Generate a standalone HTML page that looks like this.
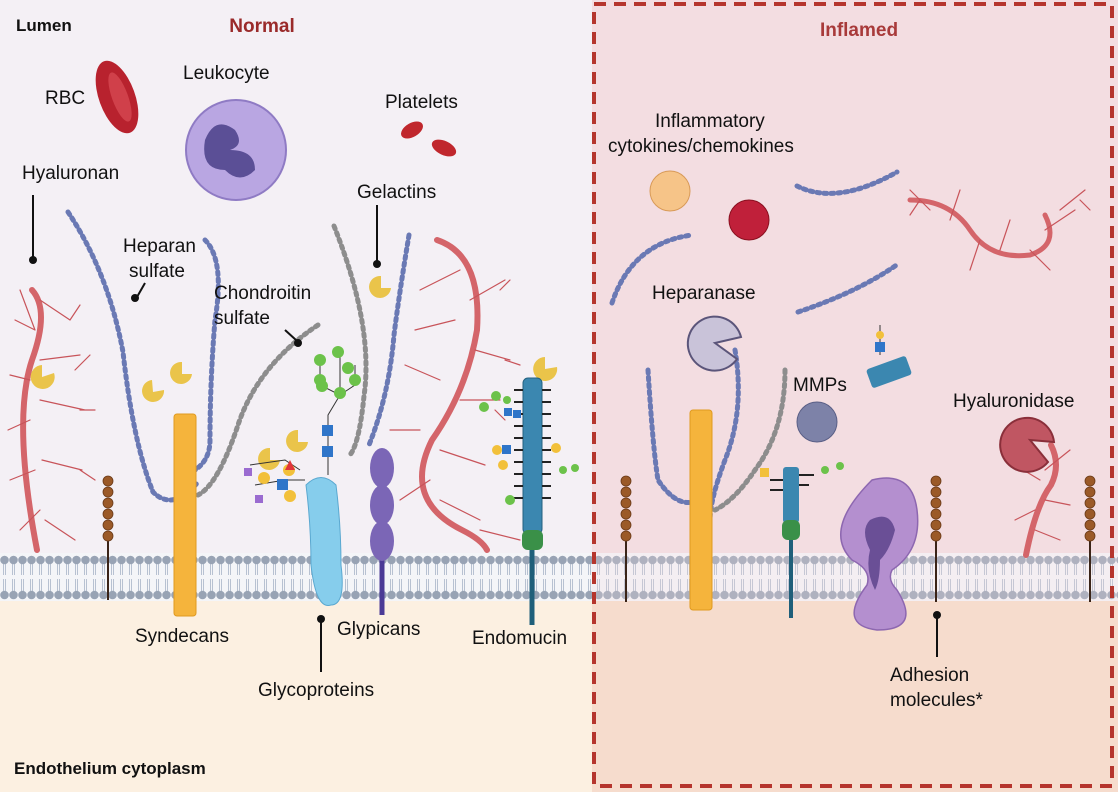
<!DOCTYPE html>
<html><head><meta charset="utf-8"><style>
html,body{margin:0;padding:0;background:#fff}
svg{display:block}
text{font-family:"Liberation Sans",sans-serif;fill:#111}
</style></head><body>
<svg width="1118" height="792" viewBox="0 0 1118 792" xmlns="http://www.w3.org/2000/svg">
<defs>
<pattern id="mem" x="0" y="553" width="9" height="48" patternUnits="userSpaceOnUse">
<rect width="9" height="48" fill="#f4f5f8"/>
<line x1="3.5" y1="9" x2="3.5" y2="22" stroke="#a8b4c8" stroke-width="0.8"/>
<line x1="5.5" y1="9" x2="5.5" y2="22" stroke="#a8b4c8" stroke-width="0.8"/>
<line x1="3.5" y1="26" x2="3.5" y2="39" stroke="#a8b4c8" stroke-width="0.8"/>
<line x1="5.5" y1="26" x2="5.5" y2="39" stroke="#a8b4c8" stroke-width="0.8"/>
<circle cx="4.5" cy="7" r="4.3" fill="#98a3b4"/>
<circle cx="4.5" cy="42" r="4.3" fill="#98a3b4"/>
</pattern>
</defs>
<rect x="0" y="0" width="592" height="560" fill="#f4f0f5"/>
<rect x="592" y="0" width="526" height="560" fill="#f3dde1"/>
<rect x="0" y="598" width="592" height="194" fill="#fcf0e1"/>
<rect x="592" y="598" width="526" height="194" fill="#f6dccd"/>
<rect x="0" y="553" width="1118" height="48" fill="url(#mem)"/>
<rect x="592" y="553" width="526" height="48" fill="#f3dde1" opacity="0.25"/>
<rect x="594" y="4" width="518" height="782" fill="none" stroke="#b5352d" stroke-width="4" stroke-dasharray="12 8"/>

<text x="16" y="31" font-size="17" font-weight="bold">Lumen</text>
<text x="262" y="32" font-size="19" font-weight="bold" style="fill:#9a2a2a" text-anchor="middle">Normal</text>
<text x="859" y="36" font-size="19" font-weight="bold" style="fill:#a83a3a" text-anchor="middle">Inflamed</text>
<text x="14" y="774" font-size="17" font-weight="bold">Endothelium cytoplasm</text>

<ellipse cx="117" cy="97" rx="18" ry="38" transform="rotate(-20 117 97)" fill="#b8222e"/>
<ellipse cx="120" cy="97" rx="8" ry="26" transform="rotate(-20 120 97)" fill="#d0404a"/>
<text x="45" y="104" font-size="19">RBC</text>
<circle cx="236" cy="150" r="50" fill="#b9a6e2" stroke="#8f7bc4" stroke-width="2"/>
<path d="M205 140 q10 -25 30 -10 q10 15 -5 20 q25 0 25 20 q-15 15 -30 0 q-25 0 -20 -30z" fill="#5b4f96"/>
<text x="183" y="79" font-size="19">Leukocyte</text>
<ellipse cx="412" cy="130" rx="12" ry="7" transform="rotate(-30 412 130)" fill="#c0272d"/>
<ellipse cx="444" cy="148" rx="13" ry="7" transform="rotate(25 444 148)" fill="#c0272d"/>
<text x="385" y="108" font-size="19">Platelets</text>

<g fill="none" stroke="#d4656a" stroke-linecap="round">
<path d="M32 290 q18 20 0 70 q-20 60 5 190" stroke-width="6"/>
<path d="M437 240 q45 15 40 90 q-10 60 -45 110 q-30 60 30 90 q20 10 25 20" stroke-width="6"/>
<path d="M1026 555 q10 -50 25 -70 q10 -20 0 -40" stroke-width="6"/>
<path d="M910 200 q40 0 60 30 q20 30 60 25 q30 -10 15 -40" stroke-width="5"/>
<g stroke-width="1.2" stroke="#c8545a">
<path d="M35 330 l-20 -10 M35 330 l-15 -40 M30 380 l-20 -5 M30 420 l-22 10 M35 470 l-25 10 M40 510 l-20 20 M40 300 l30 20 M40 360 l40 -5 M40 400 l45 10 M42 460 l40 10 M45 520 l30 20 M70 320 l10 -15 M75 370 l15 -15 M80 410 l15 0 M80 470 l15 10"/>
<path d="M470 300 l35 -20 M475 350 l35 10 M460 400 l40 0 M440 450 l45 15 M440 500 l40 20 M460 270 l-40 20 M455 320 l-40 10 M440 380 l-35 -15 M420 430 l-30 0 M430 480 l-30 20 M480 530 l40 10 M500 290 l10 -10 M505 360 l15 5 M495 410 l10 10"/>
<path d="M930 210 l-20 -20 M950 220 l10 -30 M980 240 l-10 30 M1000 250 l10 -30 M1030 250 l20 20 M1045 230 l30 -20 M1060 210 l25 -20 M1080 200 l10 10 M920 200 l-10 15"/>
<path d="M1040 480 l-25 -15 M1045 470 l25 -20 M1035 510 l-20 10 M1045 500 l25 5 M1035 530 l25 10"/>
</g></g>
<text x="22" y="179" font-size="19">Hyaluronan</text>
<line x1="33" y1="195" x2="33" y2="258" stroke="#111" stroke-width="2"/><circle cx="33" cy="260" r="4" fill="#111"/>

<g fill="none" stroke-linecap="round" stroke-width="5" stroke-dasharray="3 4">
<path d="M68 212 q40 60 55 140 q10 90 30 140 q20 20 45 -10" stroke="#6a79b4"/>
<path d="M205 240 q20 20 10 80 q-5 60 -5 120 q0 20 -15 30" stroke="#6a79b4"/>
<path d="M409 235 q-10 60 -15 100 q-5 60 -25 110" stroke="#6a79b4"/>
<path d="M334 226 q40 100 30 170 q-5 50 -15 60" stroke="#8d8d8d"/>
<path d="M318 325 q-60 40 -80 100 q-20 60 -40 70" stroke="#8d8d8d"/>
<path d="M648 370 q5 80 10 110 q20 30 40 20" stroke="#6a79b4"/>
<path d="M735 350 q10 60 -10 110 q-15 40 -15 60" stroke="#6a79b4"/>
<path d="M785 370 q0 60 -30 100 q-20 30 -40 40" stroke="#8d8d8d"/>
<path d="M612 303 q20 -60 80 -68 M797 186 q40 20 100 -14 M798 312 q60 -20 100 -48" stroke="#6a79b4"/>
</g>
<text x="123" y="252" font-size="19">Heparan</text><text x="129" y="277" font-size="19">sulfate</text>
<line x1="145" y1="283" x2="137" y2="297" stroke="#111" stroke-width="2"/><circle cx="135" cy="298" r="4" fill="#111"/>
<text x="214" y="299" font-size="19">Chondroitin</text><text x="214" y="324" font-size="19">sulfate</text>
<line x1="285" y1="330" x2="296" y2="340" stroke="#111" stroke-width="2"/><circle cx="298" cy="343" r="4" fill="#111"/>
<text x="357" y="198" font-size="19">Gelactins</text>
<line x1="377" y1="205" x2="377" y2="262" stroke="#111" stroke-width="2"/><circle cx="377" cy="264" r="4" fill="#111"/>

<g fill="#eac44a">
<path d="M42 365 a12 12 0 1 0 12 8 l-12 4z"/>
<path d="M152 380 a11 11 0 1 0 12 10 l-11 2z"/>
<path d="M182 362 a11 11 0 1 0 10 12 l-10 0z"/>
<path d="M270 448 a11 11 0 1 0 10 12 l-10 0z"/>
<path d="M298 430 a11 11 0 1 0 10 12 l-10 0z"/>
<path d="M381 276 a11 11 0 1 0 10 12 l-10 0z"/>
<path d="M545 357 a12 12 0 1 0 12 10 l-12 2z"/>
</g>

<rect x="174" y="414" width="22" height="202" rx="3" fill="#f5b43c" stroke="#e09a20"/>
<rect x="690" y="410" width="22" height="200" rx="3" fill="#f5b43c" stroke="#e09a20"/>
<text x="135" y="642" font-size="19">Syndecans</text>

<path d="M306 485 q15 -15 30 0 q5 40 5 80 q5 40 -10 40 q-15 5 -20 -40 q0 -40 -5 -80z" fill="#86cdec" stroke="#5aa8d0"/>
<g stroke="#333" stroke-width="1" fill="none"><path d="M328 475 l0 -60 l12 -20 l0 -40 M340 395 l15 -10 l0 -20 M340 395 l-20 -10 l0 -20 M305 480 l-20 0 l-30 5 M300 470 l-15 -10 l-35 5"/></g>
<rect x="322" y="446" width="11" height="11" fill="#2f75c9"/><rect x="322" y="425" width="11" height="11" fill="#2f75c9"/>
<g fill="#6cc24a"><circle cx="340" cy="393" r="6"/><circle cx="355" cy="380" r="6"/><circle cx="320" cy="380" r="6"/><circle cx="320" cy="360" r="6"/><circle cx="338" cy="352" r="6"/><circle cx="348" cy="368" r="6"/><circle cx="322" cy="386" r="6"/></g>
<g fill="#f2c03a"><circle cx="264" cy="478" r="6"/><circle cx="290" cy="496" r="6"/><circle cx="289" cy="470" r="6"/></g>
<rect x="277" y="479" width="11" height="11" fill="#2f75c9"/>
<g fill="#9a6bd0"><rect x="244" y="468" width="8" height="8"/><rect x="255" y="495" width="8" height="8"/></g>
<path d="M285 470 l5 -10 l5 10z" fill="#e0343a"/>
<text x="258" y="696" font-size="19">Glycoproteins</text>
<line x1="321" y1="620" x2="321" y2="672" stroke="#111" stroke-width="2"/><circle cx="321" cy="619" r="4" fill="#111"/>

<line x1="382" y1="540" x2="382" y2="615" stroke="#4b3a96" stroke-width="5"/>
<g fill="#7b66b6"><ellipse cx="382" cy="468" rx="12" ry="20"/><ellipse cx="382" cy="505" rx="12" ry="20"/><ellipse cx="382" cy="541" rx="12" ry="20"/></g>
<text x="337" y="635" font-size="19">Glypicans</text>

<line x1="532" y1="540" x2="532" y2="625" stroke="#1f5f7a" stroke-width="5"/>
<rect x="523" y="378" width="19" height="156" rx="5" fill="#3b87b0" stroke="#23617f"/>
<rect x="522" y="530" width="21" height="20" rx="6" fill="#3a9048"/>
<g stroke="#222" stroke-width="2">
<path d="M514 390h9 M514 402h9 M514 414h9 M514 426h9 M514 438h9 M514 450h9 M514 462h9 M514 474h9 M514 486h9 M514 498h9 M542 390h9 M542 402h9 M542 414h9 M542 426h9 M542 438h9 M542 450h9 M542 462h9 M542 474h9 M542 486h9 M542 498h9"/></g>
<g fill="#6cc24a"><circle cx="484" cy="407" r="5"/><circle cx="496" cy="396" r="5"/><circle cx="507" cy="400" r="4"/><circle cx="510" cy="500" r="5"/><circle cx="563" cy="470" r="4"/><circle cx="575" cy="468" r="4"/></g>
<g fill="#f2c03a"><circle cx="497" cy="450" r="5"/><circle cx="503" cy="465" r="5"/><circle cx="556" cy="448" r="5"/></g>
<g fill="#2f75c9"><rect x="502" y="445" width="9" height="9"/><rect x="504" y="408" width="8" height="8"/><rect x="513" y="410" width="8" height="8"/></g>
<text x="472" y="644" font-size="19">Endomucin</text>

<g>
<line x1="108" y1="540" x2="108" y2="600" stroke="#3a2418" stroke-width="2"/>
<line x1="626" y1="540" x2="626" y2="602" stroke="#3a2418" stroke-width="2"/>
<line x1="936" y1="540" x2="936" y2="602" stroke="#3a2418" stroke-width="2"/>
<line x1="1090" y1="540" x2="1090" y2="602" stroke="#3a2418" stroke-width="2"/>
<g fill="#9b5a28" stroke="#6a3a18" stroke-width="0.8">
<circle cx="108" cy="481" r="5"/><circle cx="108" cy="492" r="5"/><circle cx="108" cy="503" r="5"/><circle cx="108" cy="514" r="5"/><circle cx="108" cy="525" r="5"/><circle cx="108" cy="536" r="5"/>
<circle cx="626" cy="481" r="5"/><circle cx="626" cy="492" r="5"/><circle cx="626" cy="503" r="5"/><circle cx="626" cy="514" r="5"/><circle cx="626" cy="525" r="5"/><circle cx="626" cy="536" r="5"/>
<circle cx="936" cy="481" r="5"/><circle cx="936" cy="492" r="5"/><circle cx="936" cy="503" r="5"/><circle cx="936" cy="514" r="5"/><circle cx="936" cy="525" r="5"/><circle cx="936" cy="536" r="5"/>
<circle cx="1090" cy="481" r="5"/><circle cx="1090" cy="492" r="5"/><circle cx="1090" cy="503" r="5"/><circle cx="1090" cy="514" r="5"/><circle cx="1090" cy="525" r="5"/><circle cx="1090" cy="536" r="5"/>
</g></g>
<text x="890" y="681" font-size="19">Adhesion</text><text x="890" y="706" font-size="19">molecules*</text>
<line x1="937" y1="617" x2="937" y2="657" stroke="#111" stroke-width="2"/><circle cx="937" cy="615" r="4" fill="#111"/>

<text x="655" y="127" font-size="19">Inflammatory</text><text x="608" y="152" font-size="19">cytokines/chemokines</text>
<circle cx="670" cy="191" r="20" fill="#f6c488" stroke="#d89a58"/>
<circle cx="749" cy="220" r="20" fill="#c0203a" stroke="#8a1020"/>
<text x="652" y="299" font-size="19">Heparanase</text>
<path d="M715 343 l26 -6 a27 27 0 1 0 -4 22z" fill="#c9c3d9" stroke="#5b557a" stroke-width="2"/>
<text x="793" y="391" font-size="19">MMPs</text>
<circle cx="817" cy="422" r="20" fill="#7d82a8" stroke="#5a5f86"/>
<rect x="868" y="362" width="42" height="20" rx="3" transform="rotate(-20 889 372)" fill="#3b87b0"/>
<line x1="880" y1="355" x2="880" y2="325" stroke="#333"/><rect x="875" y="342" width="10" height="10" fill="#2f75c9"/><circle cx="880" cy="335" r="4" fill="#f2c03a"/>
<text x="953" y="407" font-size="19">Hyaluronidase</text>
<path d="M1030 440 l24 2 a27 27 0 1 0 -6 20z" fill="#c05662" stroke="#8a2f3a" stroke-width="2"/>
<line x1="791" y1="520" x2="791" y2="618" stroke="#1f5f7a" stroke-width="4"/>
<rect x="783" y="467" width="16" height="56" rx="3" fill="#3b87b0"/>
<rect x="782" y="520" width="18" height="20" rx="6" fill="#3a9048"/>
<path d="M770 480h13 M770 490h13 M799 475h15 M799 485h10" stroke="#222" stroke-width="2"/>
<rect x="760" y="468" width="9" height="9" fill="#f2c03a"/><circle cx="825" cy="470" r="4" fill="#6cc24a"/><circle cx="840" cy="466" r="4" fill="#6cc24a"/>
<path d="M872 480 q40 -10 45 30 q5 40 -25 60 q-5 10 5 20 q25 40 -20 40 q-40 -5 -10 -45 q5 -15 -15 -25 q-30 -30 20 -80z" fill="#b48fcf" stroke="#8d67b0" stroke-width="1.5"/>
<path d="M870 520 q20 -10 25 10 q-5 20 -15 30 q0 20 -5 30 q-10 -20 -5 -40 q-10 -20 0 -30z" fill="#6a4f96"/>
</svg>
</body></html>
